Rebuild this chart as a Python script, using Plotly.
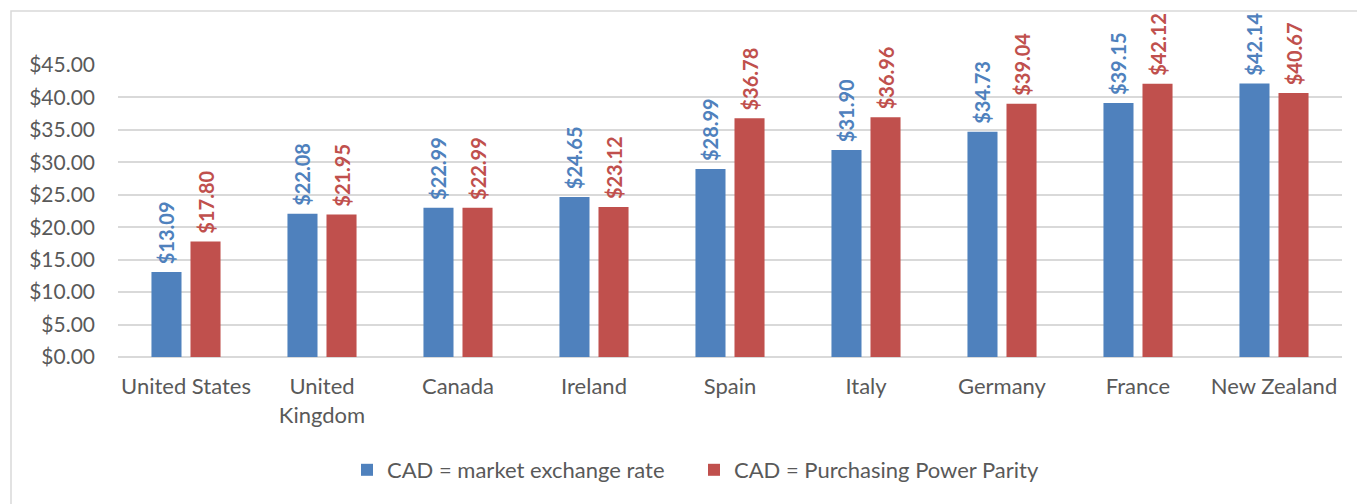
import plotly.graph_objects as go

categories = ["United States", "United<br>Kingdom", "Canada", "Ireland", "Spain",
              "Italy", "Germany", "France", "New Zealand"]
market_rate = [13.09, 22.08, 22.99, 24.65, 28.99, 31.90, 34.73, 39.15, 42.14]
ppp = [17.80, 21.95, 22.99, 23.12, 36.78, 36.96, 39.04, 42.12, 40.67]
y_ticks = [0, 5, 10, 15, 20, 25, 30, 35, 40, 45]
y_tick_labels = ["$%.2f" % v for v in y_ticks]

BLUE = "#4F81BD"
RED = "#C0504D"
FONT = "Lato, Carlito, Calibri, sans-serif"

fig = go.Figure()
fig.add_trace(go.Bar(
    name="CAD = market exchange rate", x=categories, y=market_rate,
    marker=dict(color=BLUE, line=dict(width=0)),
    texttemplate="\u00a0$%{y:.2f}", textposition="outside", textangle=-90,
    textfont=dict(color=BLUE, size=20, family=FONT, weight="bold"),
    constraintext="none", cliponaxis=False,
))
fig.add_trace(go.Bar(
    name="CAD = Purchasing Power Parity", x=categories, y=ppp,
    marker=dict(color=RED, line=dict(width=0)),
    texttemplate="\u00a0$%{y:.2f}", textposition="outside", textangle=-90,
    textfont=dict(color=RED, size=20, family=FONT, weight="bold"),
    constraintext="none", cliponaxis=False,
))

fig.update_layout(
    width=1357, height=504,
    margin=dict(l=118, r=15, t=65, b=147, autoexpand=False),
    paper_bgcolor="white", plot_bgcolor="white",
    barmode="group", bargap=0.426, bargroupgap=0.23,
    font=dict(family=FONT, color="#595959", size=21),
    showlegend=True,
    legend=dict(orientation="h", xref="container", yref="container",
                x=347 / 1357, xanchor="left",
                y=1 - 470 / 504, yanchor="middle",
                font=dict(size=22, color="#595959"),
                entrywidth=302, itemwidth=30, tracegroupgap=0),
    shapes=[dict(type="rect", xref="paper", yref="paper",
                 x0=(11 - 118) / 1224, x1=(1362 - 118) / 1224,
                 y0=(357 - 510) / 292, y1=(357 - 11) / 292,
                 line=dict(color="#D9D9D9", width=1.5), layer="below")],
)
fig.update_yaxes(range=[0, 45], tickvals=y_ticks, ticktext=y_tick_labels,
                 showgrid=True, gridcolor="#D9D9D9", gridwidth=1.5,
                 zeroline=True, zerolinecolor="#D9D9D9", zerolinewidth=1.5,
                 showline=False, ticks="", ticklabelstandoff=22,
                 automargin=False,
                 tickfont=dict(size=21, color="#595959"))
fig.update_xaxes(showline=False, ticks="", ticklabelstandoff=14,
                 automargin=False,
                 tickfont=dict(size=22, color="#595959"))

fig.write_html("out.html", config={"displayModeBar": False},
               post_script="document.body.style.margin='0';document.body.style.overflow='hidden';")
